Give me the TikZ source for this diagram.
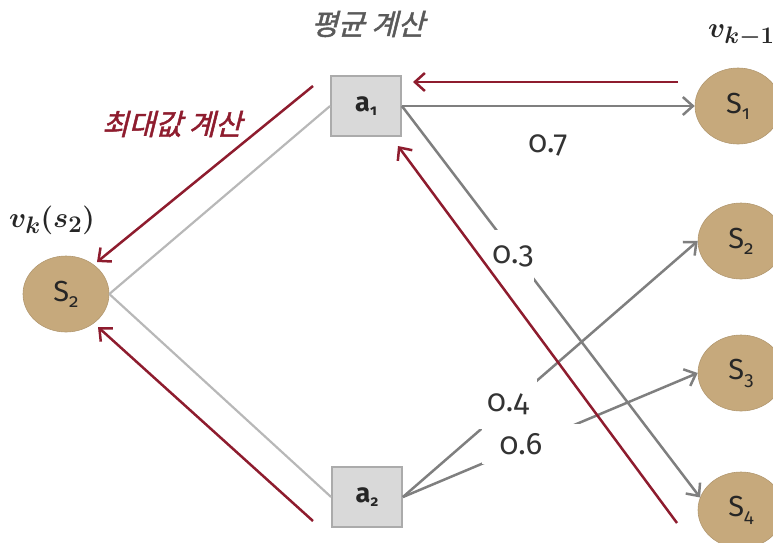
\documentclass[tikz,border=0pt]{standalone}
\usepackage{amsmath}
\usepackage{graphicx}
\usepackage{fontspec}
\setmainfont{Fira Sans}[Numbers=OldStyle]
\newfontfamily\kor{Noto Sans CJK KR}[FakeSlant=0.25,FakeBold=1.5]
\usetikzlibrary{arrows.meta,shapes.geometric}
\definecolor{tan}{HTML}{C6A97C}
\definecolor{boxfill}{HTML}{D9D9D9}
\definecolor{boxline}{HTML}{ABABAB}
\definecolor{dred}{HTML}{8E1C2E}
\definecolor{lgray}{HTML}{B8B8B8}
\definecolor{mgray}{HTML}{7F7F7F}
\definecolor{tgray}{HTML}{5A5A5A}
\newcommand{\ssub}[1]{\raisebox{-6pt}{\fontsize{19}{19}\selectfont #1}}
\newcommand{\asub}[1]{\raisebox{-4pt}{\fontsize{15}{15}\selectfont\bfseries #1}}
\newcommand{\bigmath}[1]{\scalebox{1.15}{\fontsize{24.88}{30}\selectfont\boldmath$#1$}}
\begin{document}
\begin{tikzpicture}[x=1pt,y=-1pt,
  state/.style={ellipse,fill=tan,draw=tan!90!black,line width=0.6pt,minimum width=86pt,minimum height=76pt,inner sep=0pt,font=\fontsize{29}{29}\selectfont,text=black!85},
  act/.style={rectangle,fill=boxfill,draw=boxline,line width=1.8pt,minimum width=70pt,minimum height=60pt,inner sep=0pt,font=\fontsize{27}{27}\selectfont\bfseries,text=black!85},
  prob/.style={fill=white,inner sep=0pt,font=\fontsize{31}{31}\selectfont,text=black!80},
  redarr/.style={draw=dred,line width=2.5pt,-{Straight Barb[length=10pt,width=18pt,line width=2.5pt]}},
  grayarr/.style={draw=mgray,line width=2.5pt,-{Straight Barb[length=10pt,width=18pt,line width=2.5pt]}},
  thin gray/.style={draw=lgray,line width=2.2pt}]
\useasboundingbox (0,0) rectangle (773,542);
% nodes
\node[act] (a1) at (366,106) {a\asub{1}};
\node[act] (a2) at (367,497) {a\asub{2}};
\node[state] (S2l) at (66,294) {S\ssub{2}};
\node[state] (S1) at (738,106) {S\ssub{1}};
\node[state] (S2r) at (741,241) {S\ssub{2}};
\node[state] (S3) at (741,373) {S\ssub{3}};
\node[state] (S4) at (741,510) {S\ssub{4}};
% titles
\node[font=\kor\fontsize{29}{29}\selectfont,text=tgray] (t1) at (368,24) {평균 계산};
\node[font=\kor\fontsize{29}{29}\selectfont,text=dred] (t2) at (172,124) {최대값 계산};
\node[text=black!85,anchor=base west,inner sep=0pt] (t3) at (708,37) {\bigmath{v_{k-1}}};
\node[text=black!85] (t4) at (52,220) {\bigmath{v_k(s_2)}};
% gray connectors
\draw[thin gray] (S2l.east) -- (a1.west);
\draw[thin gray] (S2l.east) -- (a2.west);
\draw[grayarr] (a1.east) -- (S1.west);
\draw[grayarr] (a1.east) -- (S4.163);
\draw[grayarr] (a2.east) -- (S2r.west);
\draw[grayarr] (a2.east) -- (S3.west);
% probability labels
\node[prob,fill=none] (p7) at (548,145) {0.7};
\node[prob,minimum width=42pt,minimum height=52pt] (p3) at (513,256) {0.3};
\node[prob,minimum width=58pt,minimum height=50pt] (p4) at (508,404) {0.4};
\node[prob,minimum width=101pt,minimum height=40pt] (p6) at (532,444) {\hspace*{-22pt}0.6};
% red arrows
\coordinate (r1s) at (678,82);
\coordinate (r1e) at (413,82);
\coordinate (r2s) at (677,523);
\coordinate (r2e) at (398,146);
\coordinate (r3s) at (313,86);
\coordinate (r3e) at (97,262);
\coordinate (r4s) at (313,521);
\coordinate (r4e) at (98,327);
\draw[redarr] (r1s) -- (r1e);
\draw[redarr] (r2s) -- (r2e);
\draw[redarr] (r3s) -- (r3e);
\draw[redarr] (r4s) -- (r4e);
\end{tikzpicture}
\end{document}
